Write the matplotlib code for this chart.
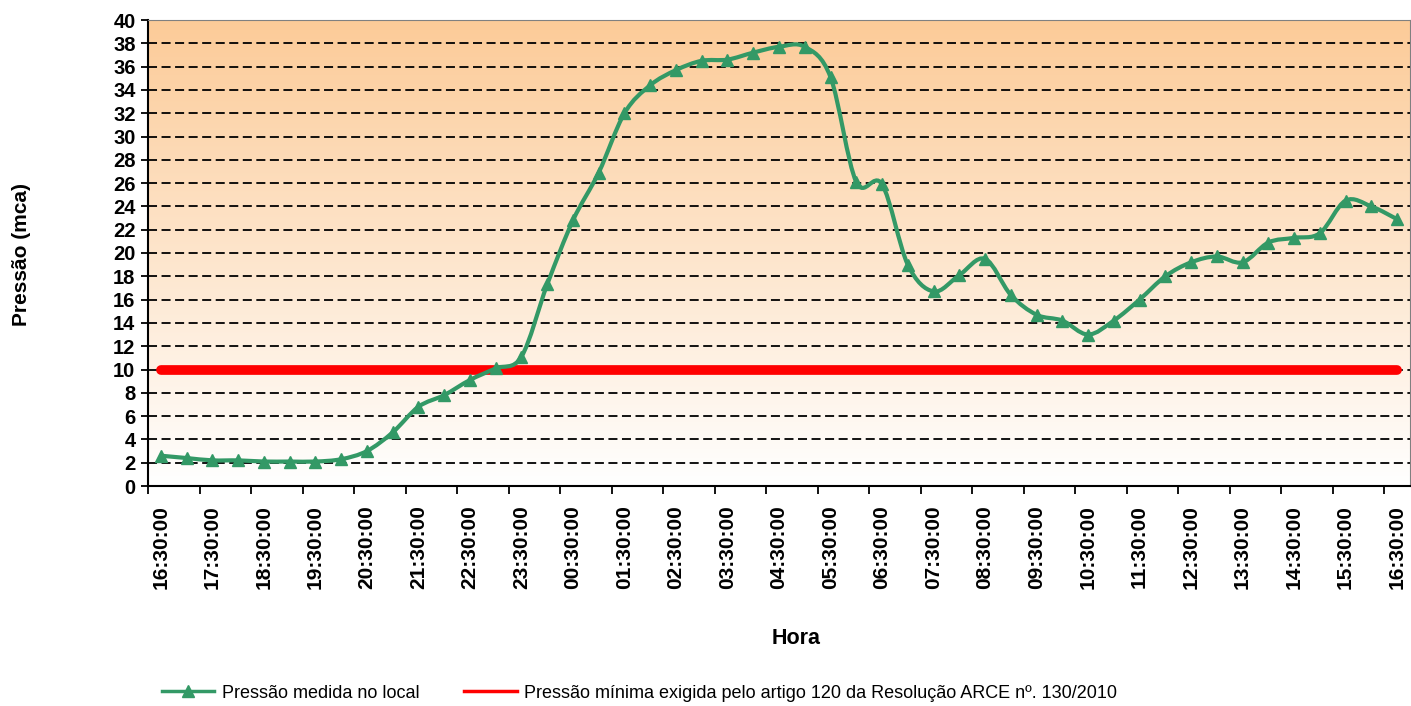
import numpy as np
import matplotlib
matplotlib.use("Agg")
import matplotlib.pyplot as plt
from matplotlib.path import Path
from matplotlib.patches import PathPatch
from matplotlib.lines import Line2D

plt.rcParams["font.family"] = ["Liberation Sans", "DejaVu Sans"]

# leituras de 30 em 30 min, 16:30 -> 16:30 do dia seguinte
horas = ["16:30:00", "17:30:00", "18:30:00", "19:30:00", "20:30:00", "21:30:00",
         "22:30:00", "23:30:00", "00:30:00", "01:30:00", "02:30:00", "03:30:00",
         "04:30:00", "05:30:00", "06:30:00", "07:30:00", "08:30:00", "09:30:00",
         "10:30:00", "11:30:00", "12:30:00", "13:30:00", "14:30:00", "15:30:00",
         "16:30:00"]
pressao = [2.6, 2.4, 2.2, 2.2, 2.1, 2.1, 2.1, 2.3, 3.0, 4.6,
           6.8, 7.8, 9.1, 10.1, 11.1, 17.3, 22.8, 26.9, 32.0, 34.4,
           35.7, 36.5, 36.6, 37.2, 37.7, 37.7, 35.1, 26.1, 25.9, 19.0,
           16.7, 18.1, 19.5, 16.4, 14.7, 14.2, 13.0, 14.2, 16.0, 18.0,
           19.2, 19.7, 19.2, 20.9, 21.3, 21.7, 24.5, 24.0, 22.9]
pressao_min = 10.0

n = len(pressao)
x = np.arange(n)
y = np.array(pressao)

fig = plt.figure(figsize=(14.11, 7.06), dpi=100)
ax = fig.add_axes([148 / 1411, 220 / 706, 1262 / 1411, 466 / 706])
ax.set_xlim(-0.5, n - 0.5)
ax.set_ylim(0, 40)

# fundo em degrade (pessego -> branco)
grad = np.linspace(1, 0, 256)[:, None]
top = np.array([252, 203, 152]) / 255
bot = np.array([255, 255, 255]) / 255
img = bot + grad[..., None] * (top - bot)
ax.imshow(img, extent=[-0.5, n - 0.5, 0, 40], aspect="auto", zorder=0)

for v in range(2, 40, 2):
    ax.axhline(v, color="black", lw=1.3, ls=(0, (5, 2.5)), zorder=1)

# linha suavizada (bezier tipo Excel)
verts = [(x[0], y[0])]
codes = [Path.MOVETO]
for i in range(n - 1):
    p0 = np.array([x[max(i - 1, 0)], y[max(i - 1, 0)]])
    p1 = np.array([x[i], y[i]])
    p2 = np.array([x[i + 1], y[i + 1]])
    p3 = np.array([x[min(i + 2, n - 1)], y[min(i + 2, n - 1)]])
    c1 = p1 + (p2 - p0) / 6
    c2 = p2 - (p3 - p1) / 6
    verts += [tuple(c1), tuple(c2), tuple(p2)]
    codes += [Path.CURVE4] * 3
verde = "#339966"
ax.add_patch(PathPatch(Path(verts, codes), fill=False, edgecolor=verde, lw=3, zorder=4))
ax.plot(x, y, ls="none", marker="^", ms=8, color=verde, zorder=5)

ax.plot(x, [pressao_min] * n, color="#ff0000", lw=7, solid_capstyle="round", zorder=3)

# eixos
ax.spines["top"].set_color("#808080")
ax.spines["top"].set_linestyle((0, (2, 1)))
ax.spines["right"].set_color("#808080")
ax.spines["left"].set_linewidth(1.5)
ax.spines["bottom"].set_linewidth(1.5)

ax.set_yticks(range(0, 41, 2))
ax.tick_params(axis="y", direction="out", length=5, width=1.3, labelsize=14.5, pad=4)
for t in ax.get_yticklabels():
    t.set_fontweight("bold")

ax.set_xticks(np.arange(0, n, 2))
ax.set_xticklabels(horas, rotation=90, fontsize=15, fontweight="bold")
ax.set_xticks(np.arange(-0.5, n, 2), minor=True)
ax.tick_params(axis="x", which="major", length=0, pad=14)
ax.tick_params(axis="x", which="minor", direction="out", length=6, width=1.3)

fig.text(22 / 1411, 1 - 255 / 706, "Pressão (mca)", rotation=90, ha="center",
         va="center", fontsize=15, fontweight="bold")
fig.text(796 / 1411, 1 - 638 / 706, "Hora", ha="center", va="center",
         fontsize=15.5, fontweight="bold")

handles = [Line2D([], [], color=verde, lw=2.5, marker="^", ms=8),
           Line2D([], [], color="#ff0000", lw=2.5)]
labels = ["Pressão medida no local",
          "Pressão mínima exigida pelo artigo 120 da Resolução ARCE nº. 130/2010"]
fig.legend(handles, labels, loc="center left", bbox_to_anchor=(162 / 1411, 1 - 693 / 706),
           ncol=2, frameon=False, fontsize=13, handlelength=2.9, handletextpad=0.4,
           columnspacing=2.5, borderaxespad=0, borderpad=0)

fig.savefig("out.png", dpi=100)
